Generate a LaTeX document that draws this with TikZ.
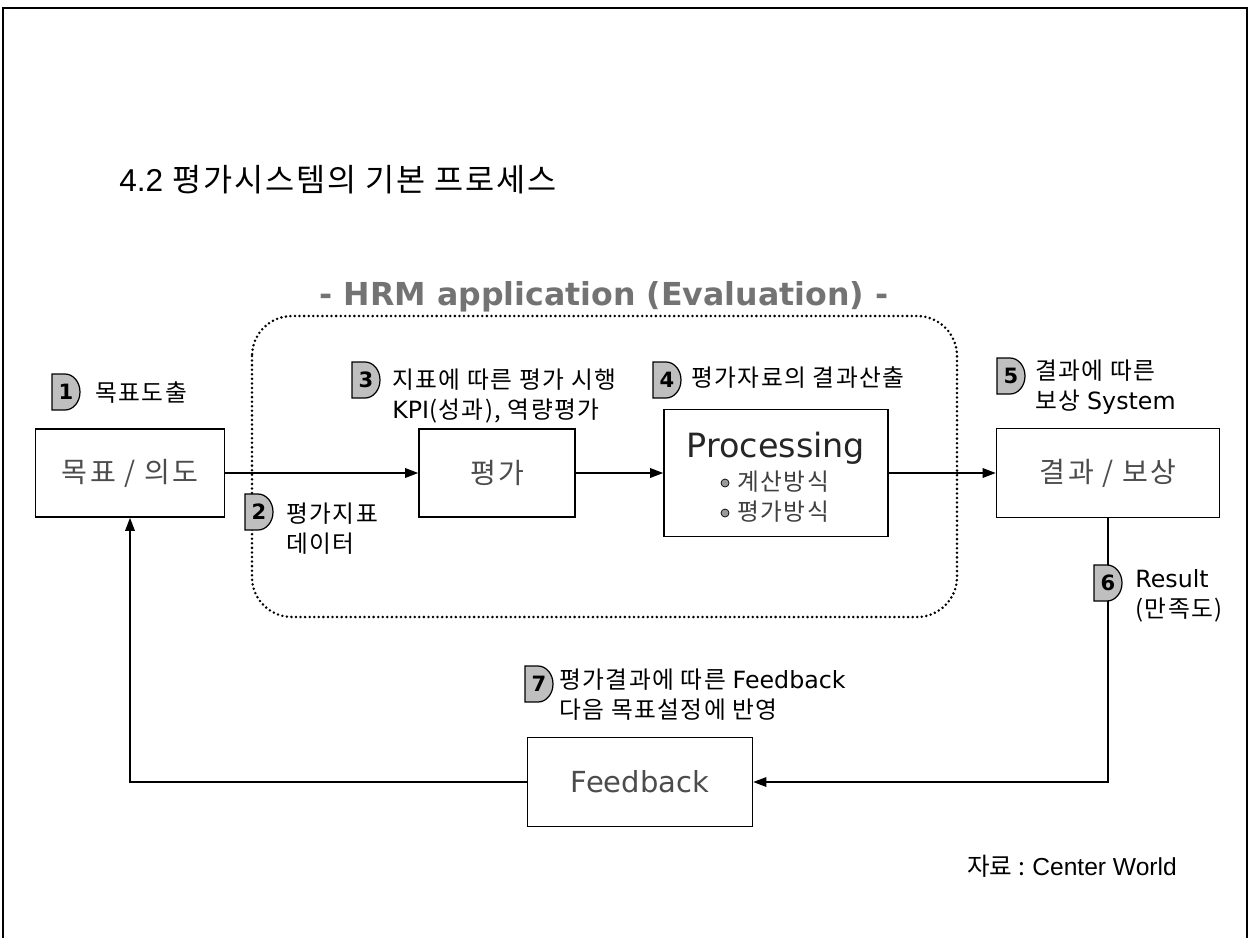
\documentclass[tikz,border=0pt]{standalone}
\usepackage{fontspec}
\setmainfont{Noto Sans CJK KR}
\newfontfamily\verd{DejaVu Sans}
\newfontfamily\arial{Liberation Sans}
\usetikzlibrary{arrows.meta,positioning}

% D-shaped number tag: name, left middle point, number
\newcommand\steptag[3]{%
  \filldraw[tagline] (#2) ++(0,-18) -- ++(13,0)
    arc[start angle=90, end angle=-90, x radius=0.3cm, y radius=0.36cm] -- ++(-13,0) -- cycle;
  \path (#2) ++(14,0) node[tagnum] (#1) {#3};
}

\begin{document}
\begin{tikzpicture}[
    x=0.02cm, y=-0.02cm,
    box/.style={rectangle, draw, line width=0.9pt, text=black!70, font=\fontsize{16}{19}\selectfont\addfontfeature{LetterSpace=8}},
    note/.style={inner sep=0pt, align=left, anchor=west, font=\fontsize{13.5}{17}\selectfont\addfontfeature{LetterSpace=6}},
    tagline/.style={line width=0.7pt, fill=black!25},
    tagnum/.style={inner sep=0pt, font=\verd\bfseries\fontsize{12}{12}\selectfont},
    arrow/.style={-{Triangle[length=7.5pt,width=5.5pt]}, line width=0.8pt},
    zone/.style={line width=1.6pt, dash pattern=on 0pt off 2.6pt, line cap=round, rounded corners=0.8cm},
    dot/.style={circle, draw, fill=black!40, inner sep=0pt, minimum size=0.16cm}
]
    \useasboundingbox (0,0) rectangle (1250,937);
    % outer frame, open at the bottom
    \draw[line width=1.1pt] (3,945) -- (3,8) -- (1247,8) -- (1247,945);

    \node[anchor=west, inner sep=0pt, font=\fontsize{18}{21}\selectfont\addfontfeature{LetterSpace=6}] (title) at (119,180) {{\arial 4.2} 평가시스템의 기본 프로세스};

    % application zone
    \node[font=\verd\bfseries\fontsize{18}{21}\selectfont, text=black!55] (hrm) at (604,297) {- HRM application (Evaluation) -};
    \draw[zone] (252,316) rectangle (957,617);

    % main flow
    \node[box, minimum width=3.78cm, minimum height=1.76cm] (goal) at (130,473) {목표 / 의도};
    \node[box, minimum width=3.12cm, minimum height=1.76cm] (eval) at (497,473) {평가};
    \node[box, minimum width=4.48cm, minimum height=2.54cm] (proc) at (776,473) {};
    \node[font=\verd\fontsize{19}{22}\selectfont, text=black!85] (proctitle) at (776,448) {Processing};
    \node[dot] (dot1) at (725,483) {};
    \node[dot] (dot2) at (725,513) {};
    \node[note, text=black!75] (calc) at (737,482) {계산방식};
    \node[note, text=black!75] (rate) at (737,512) {평가방식};
    \node[box, minimum width=4.46cm, minimum height=1.78cm] (reward) at (1108,473) {결과 / 보상};
    \node[box, font=\verd\fontsize{16.5}{19}\selectfont, minimum width=4.5cm, minimum height=1.78cm] (fb) at (640,782) {Feedback};

    \draw[arrow] (goal) -- (eval);
    \draw[arrow] (eval) -- (proc);
    \draw[arrow] (proc) -- (reward);
    \draw[arrow] (reward.south) |- (fb.east);
    \draw[arrow] (fb.west) -| (goal.south);

    % numbered steps
    \steptag{t1}{52,392}{1}
    \node[note] (n1) at (95,393) {목표도출};
    \steptag{t2}{245,512}{2}
    \node[note] (n2) at (286,529) {평가지표\\데이터};
    \steptag{t3}{352,380}{3}
    \node[note] (n3) at (392,396) {지표에 따른 평가 시행\\{\verd KPI}(성과), 역량평가};
    \steptag{t4}{653,380}{4}
    \node[note] (n4) at (691,378) {평가자료의 결과산출};
    \steptag{t5}{997,376}{5}
    \node[note] (n5) at (1035,387) {결과에 따른\\보상 {\verd System}};
    \steptag{t6}{1094,583}{6}
    \node[note] (n6) at (1135,596) {{\verd Result}\\(만족도)};
    \steptag{t7}{525,684}{7}
    \node[note] (n7) at (559,695) {평가결과에 따른 {\verd Feedback}\\다음 목표설정에 반영};

    \node[note, font=\fontsize{14}{17}\selectfont] (src) at (967,866) {자료 : {\arial Center World}};
\end{tikzpicture}
\end{document}
